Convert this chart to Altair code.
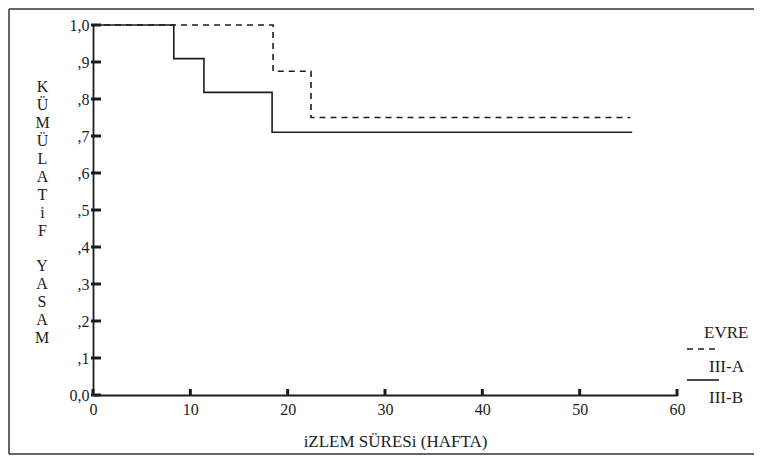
import altair as alt
import pandas as pd

# ---- data ----
groups = ["III-A", "III-B"]
time_a = [0, 18.5, 22.4, 55.2]
surv_a = [1.0, 0.875, 0.75, 0.75]
time_b = [0, 8.3, 11.4, 18.4, 55.4]
surv_b = [1.0, 0.909, 0.818, 0.71, 0.71]
x_ticks = [0, 10, 20, 30, 40, 50, 60]
y_ticks = [0.0, 0.1, 0.2, 0.3, 0.4, 0.5, 0.6, 0.7, 0.8, 0.9, 1.0]
x_title = "iZLEM SÜRESi (HAFTA)"
y_title_word1 = ["K", "Ü", "M", "Ü", "L", "A", "T", "i", "F"]
y_title_word2 = ["Y", "A", "S", "A", "M"]
legend_title = "EVRE"

FONT = "Liberation Serif"
INK = "#1c1c1c"
W, H = 584, 370
LH = 18

curves = pd.DataFrame(
    {
        "t": time_a + time_b,
        "s": surv_a + surv_b,
        "g": [groups[0]] * len(time_a) + [groups[1]] * len(time_b),
    }
)
one = pd.DataFrame({"a": [0]})

xscale = alt.Scale(domain=[0, 60], nice=False, zero=False)
yscale = alt.Scale(domain=[0, 1], nice=False)

xaxis = alt.Axis(
    values=x_ticks, tickSize=0, grid=False, domainColor=INK, domainWidth=1.8,
    labelFont=FONT, labelFontSize=16, labelColor=INK, labelPadding=6, labelFlush=False,
    title=x_title, titleFont=FONT, titleFontSize=17, titleFontWeight="normal",
    titleColor=INK, titleX=302, titleY=46, titleBaseline="middle", titleAlign="center",
)
yaxis = alt.Axis(
    values=y_ticks, tickSize=0, grid=False, domainColor=INK, domainWidth=1.8,
    labelFont=FONT, labelFontSize=16, labelColor=INK, labelPadding=4,
    labelExpr="datum.value == 0 ? '0,0' : (datum.value == 1 ? '1,0' : ',' + format(datum.value * 10, 'd'))",
    title=y_title_word1, titleAngle=0, titleFont=FONT, titleFontSize=16, titleFontWeight="normal",
    titleColor=INK, titleX=-51, titleY=53, titleAlign="center", titleBaseline="top",
    titleLineHeight=LH,
)

lines = alt.Chart(curves).mark_line(interpolate="step-after", color=INK, strokeWidth=1.6).encode(
    x=alt.X("t:Q", scale=xscale, axis=xaxis),
    y=alt.Y("s:Q", scale=yscale, axis=yaxis),
    strokeDash=alt.StrokeDash(
        "g:N", scale=alt.Scale(domain=groups, range=[[6, 5], [1, 0]]), legend=None
    ),
    detail="g:N",
)

ytick_layer = alt.Chart(pd.DataFrame({"v": y_ticks})).mark_rule(color=INK, strokeWidth=3).encode(
    y=alt.Y("v:Q", scale=yscale, axis=yaxis), x=alt.value(-2), x2=alt.value(8)
)
xtick_layer = alt.Chart(pd.DataFrame({"v": x_ticks})).mark_rule(color=INK, strokeWidth=3).encode(
    x=alt.X("v:Q", scale=xscale, axis=xaxis), y=alt.value(H - 6), y2=alt.value(H + 1)
)

# second word of the stacked vertical y title
ytitle2 = alt.Chart(one).mark_text(
    font=FONT, fontSize=16, color=INK, align="center", baseline="top", lineHeight=LH
).encode(x=alt.value(-51), y=alt.value(53 + LH * (len(y_title_word1) + 1)), text=alt.value(y_title_word2))

# page frame of the scanned figure
frame_col = "#333333"
FB = 429
frame = [
    alt.Chart(one).mark_rule(color=frame_col, strokeWidth=1.5).encode(
        x=alt.value(-84), x2=alt.value(700), y=alt.value(-16)
    ),
    alt.Chart(one).mark_rule(color=frame_col, strokeWidth=1.5).encode(
        x=alt.value(-84), y=alt.value(-16), y2=alt.value(FB)
    ),
    alt.Chart(one).mark_rule(color=frame_col, strokeWidth=1.5).encode(
        x=alt.value(-84), x2=alt.value(700), y=alt.value(FB)
    ),
]

# hand-drawn legend
leg_text = dict(font=FONT, fontSize=17, color=INK, align="left", baseline="middle")
legend = [
    alt.Chart(one).mark_text(**leg_text).encode(x=alt.value(611), y=alt.value(308), text=alt.value(legend_title)),
    alt.Chart(one).mark_rule(color=INK, strokeWidth=1.6, strokeDash=[6, 5]).encode(
        x=alt.value(594), x2=alt.value(626), y=alt.value(324)
    ),
    alt.Chart(one).mark_text(**leg_text).encode(x=alt.value(616), y=alt.value(342), text=alt.value(groups[0])),
    alt.Chart(one).mark_rule(color=INK, strokeWidth=1.6).encode(
        x=alt.value(594), x2=alt.value(626), y=alt.value(355)
    ),
    alt.Chart(one).mark_text(**leg_text).encode(x=alt.value(616), y=alt.value(373), text=alt.value(groups[1])),
]

chart = (
    alt.layer(lines, ytick_layer, xtick_layer, ytitle2, *frame, *legend)
    .properties(
        width=W,
        height=H,
        autosize=alt.AutoSizeParams(type="none"),
        padding={"left": 85, "top": 17, "right": 77, "bottom": 62},
        background="white",
    )
    .configure_view(stroke=None)
)

chart.save("out.html", embed_options={"renderer": "svg", "actions": False})
